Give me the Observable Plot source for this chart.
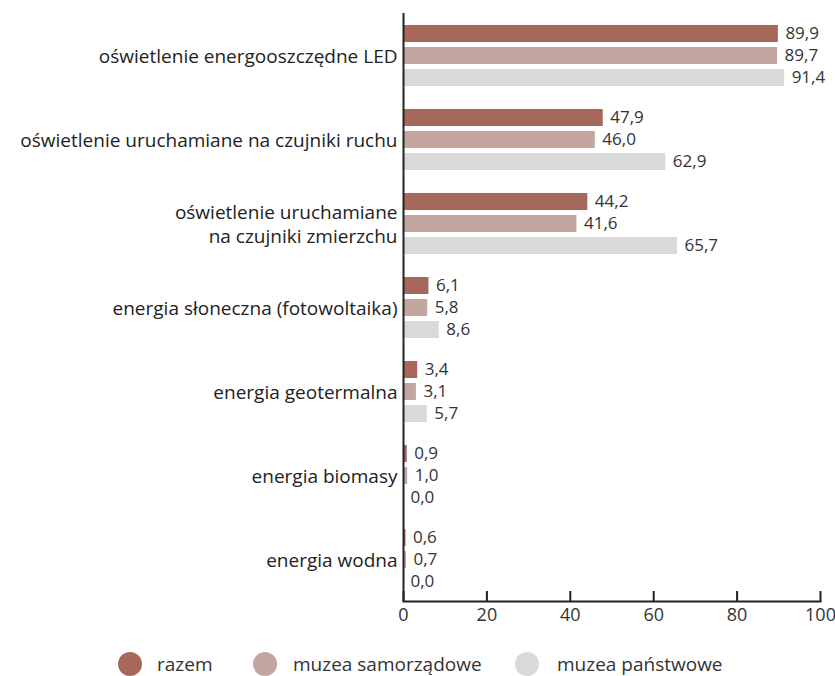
<!DOCTYPE html>
<html><head><meta charset="utf-8">
<script src="https://cdn.jsdelivr.net/npm/d3@7"></script>
<script src="https://cdn.jsdelivr.net/npm/@observablehq/plot@0.6"></script>
<style>
body{margin:0;background:#fff;font-family:"Open Sans",Roboto,sans-serif;}
#wrap{position:relative;width:835px;height:676px;overflow:hidden;}
#legend{position:absolute;left:0;top:653px;width:835px;height:22px;font-size:19px;color:#333;}
.dot{position:absolute;top:-1px;width:24px;height:24px;border-radius:50%;}
.lbl{position:absolute;top:0;line-height:22px;white-space:nowrap;}
</style></head>
<body><div id="wrap"><div id="chart"></div><div id="legend"></div></div>
<script>
const categories = [
  "oświetlenie energooszczędne LED",
  "oświetlenie uruchamiane na czujniki ruchu",
  "oświetlenie uruchamiane\nna czujniki zmierzchu",
  "energia słoneczna (fotowoltaika)",
  "energia geotermalna",
  "energia biomasy",
  "energia wodna"
];
const series = ["razem", "muzea samorządowe", "muzea państwowe"];
const colors = ["#a5685b", "#c4a6a0", "#d9d9d9"];
const razem = [89.9, 47.9, 44.2, 6.1, 3.4, 0.9, 0.6];
const samorzadowe = [89.7, 46.0, 41.6, 5.8, 3.1, 1.0, 0.7];
const panstwowe = [91.4, 62.9, 65.7, 8.6, 5.7, 0.0, 0.0];
const xTicks = [0, 20, 40, 60, 80, 100];

const valuesBySeries = [razem, samorzadowe, panstwowe];
const data = [];
categories.forEach((c, i) => series.forEach((s, j) => data.push({category: c, series: s, value: valuesBySeries[j][i]})));
const fmt = v => v.toFixed(1).replace(".", ",");

const chart = Plot.plot({
  width: 835, height: 632,
  marginLeft: 403, marginRight: 15, marginTop: 12, marginBottom: 31,
  style: {fontFamily: "'Open Sans', Roboto, sans-serif", color: "#333", overflow: "visible"},
  x: {domain: [0, 100], axis: null},
  y: {domain: series, axis: null, paddingInner: 0.24, paddingOuter: 0.49},
  fy: {domain: categories, padding: 0, axis: null},
  color: {domain: series, range: colors},
  marks: [
    Plot.barX(data, {x: "value", y: "series", fy: "category", fill: "series"}),
    Plot.text(data, {x: "value", y: "series", fy: "category", text: d => fmt(d.value), textAnchor: "start", dx: 7, fontSize: 17, fill: "#333"}),
    Plot.ruleX([0], {stroke: "#222", strokeWidth: 2}),
    Plot.axisFy({anchor: "left", tickSize: 0, tickPadding: 6, fontSize: 19, lineHeight: 1.26, label: null, fill: "#222"}),
    Plot.frame({anchor: "bottom", facetAnchor: "bottom", stroke: "#222", strokeWidth: 2}),
    Plot.axisX({ticks: xTicks, tickSize: -10, tickPadding: 17, strokeWidth: 2, stroke: "#222", fontSize: 18, label: null, tickFormat: d => d, fill: "#333"})
  ]
});
document.getElementById("chart").appendChild(chart);

const lg = document.getElementById("legend");
const dotX = [130, 265, 527];
const textX = [157, 293, 557];
series.forEach((s, i) => {
  const d = document.createElement("div");
  d.className = "dot";
  d.style.left = (dotX[i] - 12) + "px";
  d.style.background = colors[i];
  lg.appendChild(d);
  const t = document.createElement("div");
  t.className = "lbl";
  t.style.left = textX[i] + "px";
  t.textContent = s;
  lg.appendChild(t);
});
</script></body></html>
